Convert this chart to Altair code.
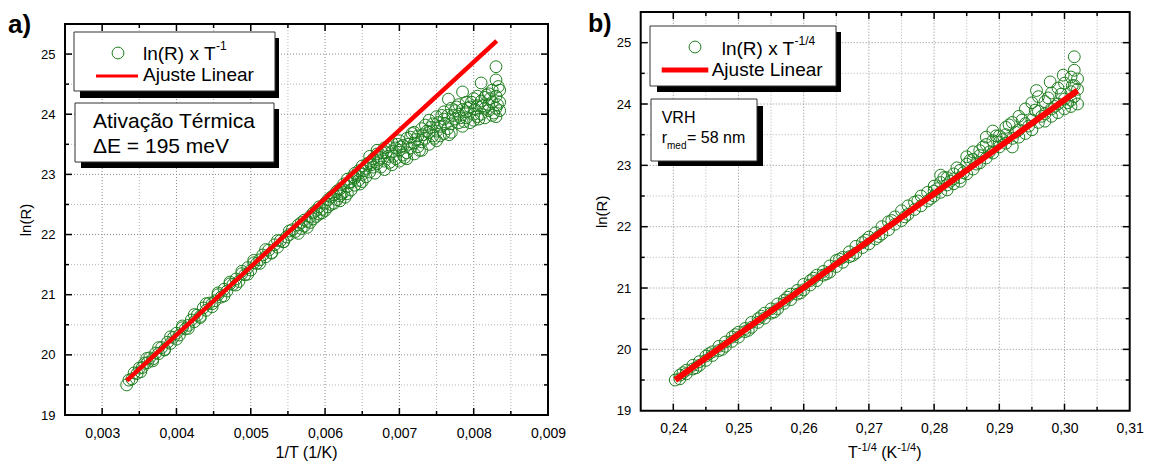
import altair as alt
import pandas as pd

FONT = "Liberation Sans"
GREEN = "#1f7f1f"
RED = "#ff0000"

# ---------------- panel a) ln(R) x 1/T ----------------
a_x = [
    0.00333, 0.00336, 0.00340, 0.00343, 0.00347, 0.00350, 0.00354, 0.00357, 0.00361, 0.00364,
    0.00368, 0.00372, 0.00376, 0.00380, 0.00384, 0.00388, 0.00392, 0.00396, 0.00400, 0.00404,
    0.00408, 0.00412, 0.00416, 0.00420, 0.00424, 0.00428, 0.00432, 0.00436, 0.00440, 0.00444,
    0.00448, 0.00452, 0.00456, 0.00460, 0.00464, 0.00468, 0.00472, 0.00476, 0.00480, 0.00484,
    0.00488, 0.00492, 0.00496, 0.00500, 0.00504, 0.00508, 0.00512, 0.00516, 0.00520, 0.00524,
    0.00528, 0.00532, 0.00536, 0.00540, 0.00544, 0.00548, 0.00552, 0.00556, 0.00560,
    0.00564, 0.00564, 0.00568, 0.00568, 0.00572, 0.00572, 0.00576, 0.00576, 0.00580, 0.00580,
    0.00584, 0.00584, 0.00588, 0.00588, 0.00592, 0.00592, 0.00596, 0.00596, 0.00600, 0.00600,
    0.00604, 0.00604, 0.00608, 0.00608, 0.00612, 0.00612, 0.00616, 0.00616,
    0.00620, 0.00620, 0.00620, 0.00625, 0.00625, 0.00630, 0.00630, 0.00630, 0.00635, 0.00635,
    0.00640, 0.00640, 0.00640, 0.00645, 0.00645, 0.00650, 0.00650, 0.00650, 0.00655, 0.00655,
    0.00660, 0.00660, 0.00660, 0.00665, 0.00665, 0.00670, 0.00670, 0.00670, 0.00675, 0.00675,
    0.00680, 0.00680, 0.00680, 0.00685, 0.00685, 0.00690, 0.00690, 0.00690, 0.00695, 0.00695,
    0.00700, 0.00700, 0.00700, 0.00705, 0.00705, 0.00710, 0.00710, 0.00710, 0.00715, 0.00715,
    0.00720, 0.00720, 0.00720, 0.00725, 0.00725, 0.00730, 0.00730, 0.00730, 0.00735, 0.00735,
    0.00740, 0.00740, 0.00740, 0.00745, 0.00745, 0.00750, 0.00750, 0.00750, 0.00755, 0.00755,
    0.00760, 0.00760, 0.00760, 0.00765, 0.00765, 0.00766, 0.00770, 0.00770, 0.00770, 0.00775, 0.00775,
    0.00780, 0.00780, 0.00780, 0.00785, 0.00785, 0.00785, 0.00790, 0.00790, 0.00790, 0.00795, 0.00795,
    0.00800, 0.00800, 0.00800, 0.00805, 0.00805, 0.00805, 0.00810, 0.00810, 0.00810,
    0.00815, 0.00815, 0.00815, 0.00820, 0.00820, 0.00820, 0.00825, 0.00825, 0.00825,
    0.00830, 0.00830, 0.00830, 0.00830, 0.00830, 0.00835, 0.00835, 0.00835,
    0.00352, 0.00360, 0.00368, 0.00376, 0.00384, 0.00392, 0.00400, 0.00408, 0.00416, 0.00424,
    0.00432, 0.00440, 0.00448, 0.00456, 0.00464, 0.00472, 0.00480, 0.00488, 0.00496, 0.00504,
    0.00512, 0.00520, 0.00528, 0.00536, 0.00544, 0.00552,
    0.00622, 0.00632, 0.00642, 0.00652, 0.00662, 0.00672, 0.00682, 0.00692, 0.00702, 0.00712, 0.00722,
    0.00732, 0.00742, 0.00752, 0.00762, 0.00772, 0.00782, 0.00792, 0.00802, 0.00812, 0.00822, 0.00832,
    0.00627, 0.00637, 0.00647, 0.00657, 0.00667, 0.00677, 0.00687, 0.00697, 0.00707, 0.00717, 0.00727,
    0.00737, 0.00747, 0.00757, 0.00767, 0.00777, 0.00787, 0.00797, 0.00807, 0.00817, 0.00827, 0.00833,
]
a_y = [
    19.50, 19.58, 19.60, 19.70, 19.69, 19.78, 19.79, 19.86, 19.87, 19.95,
    19.93, 20.03, 20.02, 20.12, 20.09, 20.21, 20.19, 20.29, 20.36, 20.33,
    20.45, 20.43, 20.49, 20.58, 20.55, 20.66, 20.64, 20.78, 20.74, 20.86,
    20.85, 20.90, 21.00, 20.96, 21.09, 21.06, 21.18, 21.17, 21.26, 21.22,
    21.35, 21.33, 21.45, 21.41, 21.53, 21.52, 21.58, 21.66, 21.63, 21.74,
    21.70, 21.83, 21.79, 21.90, 21.88, 21.96, 22.00, 22.08, 22.05,
    22.16, 22.02, 22.10, 22.20, 22.14, 22.24, 22.22, 22.12, 22.30, 22.20,
    22.26, 22.36, 22.40, 22.30, 22.34, 22.46, 22.42, 22.36, 22.52, 22.40,
    22.46, 22.58, 22.50, 22.62, 22.66, 22.52, 22.58, 22.72,
    22.64, 22.76, 22.56, 22.70, 22.84, 22.80, 22.68, 22.92, 22.74, 22.88,
    22.94, 22.82, 23.02, 22.90, 23.06, 23.00, 23.14, 22.88, 23.10, 22.96,
    23.20, 23.04, 23.30, 23.12, 23.26, 23.34, 23.18, 23.40, 23.28, 23.12,
    23.44, 23.22, 23.08, 23.30, 23.46, 23.16, 23.38, 23.52, 23.26, 23.44,
    23.40, 23.22, 23.56, 23.32, 23.48, 23.60, 23.36, 23.26, 23.44, 23.62,
    23.34, 23.52, 23.70, 23.46, 23.64, 23.76, 23.54, 23.40, 23.60, 23.82,
    23.50, 23.70, 23.90, 23.64, 23.84, 23.96, 23.72, 23.56, 23.80, 23.64,
    23.92, 24.04, 23.68, 23.76, 23.98, 24.25, 24.10, 23.84, 23.70, 23.92, 24.06,
    24.16, 23.86, 24.00, 23.80, 24.08, 24.37, 23.94, 24.20, 24.04, 23.86, 24.12,
    24.26, 24.00, 23.90, 24.14, 24.30, 23.96, 24.00, 24.22, 24.52,
    24.10, 24.28, 23.94, 24.34, 24.06, 24.16, 24.20, 23.98, 24.40,
    24.79, 24.57, 24.10, 23.96, 24.30, 24.40, 24.20, 24.06,
    19.72, 19.94, 19.90, 20.12, 20.08, 20.30, 20.26, 20.48, 20.44, 20.67,
    20.62, 20.85, 20.80, 21.03, 20.98, 21.21, 21.16, 21.39, 21.34, 21.57,
    21.52, 21.75, 21.69, 21.90, 21.88, 22.06,
    22.68, 22.86, 22.98, 23.06, 23.16, 23.24, 23.36, 23.30, 23.46, 23.50, 23.58,
    23.66, 23.78, 23.86, 23.84, 23.98, 23.94, 24.10, 24.08, 24.14, 24.26, 24.16,
    22.62, 22.96, 22.84, 23.18, 23.02, 23.36, 23.20, 23.50, 23.28, 23.68, 23.40,
    23.72, 23.60, 23.98, 23.66, 24.12, 23.88, 24.20, 23.92, 24.32, 24.02, 24.46,
]
a_fit_x = [0.00333, 0.00831]
a_fit_y = [19.57, 25.22]

# ---------------- panel b) ln(R) x T^-1/4 ----------------
b_x = [
    0.2403,
    0.2410, 0.2410, 0.2420, 0.2420, 0.2430, 0.2430, 0.2440, 0.2440, 0.2450, 0.2450,
    0.2460, 0.2460, 0.2470, 0.2470, 0.2480, 0.2480, 0.2490, 0.2490, 0.2500, 0.2500,
    0.2510, 0.2510, 0.2520, 0.2520, 0.2530, 0.2530, 0.2540, 0.2540, 0.2550, 0.2550,
    0.2560, 0.2560, 0.2570, 0.2570, 0.2580, 0.2580, 0.2590, 0.2590, 0.2600, 0.2600,
    0.2610, 0.2610, 0.2620, 0.2620, 0.2630, 0.2630, 0.2640, 0.2640, 0.2650, 0.2650,
    0.2660, 0.2660, 0.2670, 0.2670, 0.2680, 0.2680, 0.2690, 0.2690, 0.2700, 0.2700,
    0.2710, 0.2710, 0.2720, 0.2720, 0.2730, 0.2730, 0.2740, 0.2740, 0.2750, 0.2750,
    0.2760, 0.2760, 0.2770, 0.2770, 0.2780, 0.2780, 0.2790, 0.2790,
    0.2800, 0.2800, 0.2800, 0.2810, 0.2810, 0.2810, 0.2820, 0.2820, 0.2820,
    0.2830, 0.2830, 0.2830, 0.2840, 0.2840, 0.2840, 0.2850, 0.2850, 0.2850,
    0.2860, 0.2860, 0.2860, 0.2870, 0.2870, 0.2870, 0.2880, 0.2880, 0.2880,
    0.2890, 0.2890, 0.2890, 0.2900, 0.2900, 0.2900, 0.2910, 0.2910, 0.2910,
    0.2920, 0.2920, 0.2920, 0.2930, 0.2930, 0.2930, 0.2940, 0.2940, 0.2940,
    0.2950, 0.2950, 0.2950, 0.2957, 0.2960, 0.2960, 0.2960, 0.2970, 0.2970, 0.2970,
    0.2978, 0.2980, 0.2980, 0.2980, 0.2990, 0.2990, 0.2990, 0.2998, 0.3000, 0.3000, 0.3000,
    0.3010, 0.3010, 0.3010, 0.3010, 0.3015, 0.3015, 0.3015, 0.3015, 0.3020, 0.3020, 0.3020,
    0.2415, 0.2435, 0.2455, 0.2475, 0.2495, 0.2515, 0.2535, 0.2555, 0.2575, 0.2595,
    0.2615, 0.2635, 0.2655, 0.2675, 0.2695, 0.2715, 0.2735, 0.2755, 0.2775, 0.2795,
    0.2805, 0.2815, 0.2825, 0.2835, 0.2845, 0.2855, 0.2865, 0.2875, 0.2885, 0.2895, 0.2905,
    0.2915, 0.2925, 0.2935, 0.2945, 0.2955, 0.2965, 0.2975, 0.2985, 0.2995, 0.3005, 0.3012,
]
b_y = [
    19.50,
    19.58, 19.52, 19.66, 19.60, 19.74, 19.68, 19.80, 19.74, 19.89, 19.82,
    19.96, 19.90, 20.05, 19.98, 20.12, 20.05, 20.20, 20.13, 20.28, 20.20,
    20.34, 20.29, 20.44, 20.36, 20.50, 20.44, 20.59, 20.51, 20.66, 20.59,
    20.74, 20.66, 20.80, 20.75, 20.90, 20.81, 20.96, 20.90, 21.06, 20.97,
    21.12, 21.05, 21.21, 21.12, 21.27, 21.21, 21.36, 21.26, 21.45, 21.35,
    21.50, 21.42, 21.59, 21.51, 21.68, 21.57, 21.74, 21.66, 21.83, 21.72,
    21.90, 21.80, 22.00, 21.88, 22.08, 21.95, 22.16, 22.04, 22.26, 22.10,
    22.34, 22.20, 22.40, 22.28, 22.50, 22.34, 22.56, 22.42,
    22.66, 22.50, 22.58, 22.72, 22.56, 22.84, 22.68, 22.80, 22.60,
    22.86, 22.70, 22.78, 22.92, 22.80, 22.74, 23.02, 22.86, 23.14,
    22.94, 23.10, 23.22, 23.04, 23.24, 23.16, 23.34, 23.12, 23.46,
    23.20, 23.40, 23.56, 23.30, 23.48, 23.38, 23.62, 23.36, 23.50,
    23.44, 23.70, 23.30, 23.58, 23.80, 23.46, 23.52, 23.68, 23.92,
    24.02, 23.74, 23.58, 24.22, 23.70, 23.88, 24.12, 23.84, 24.04, 23.72,
    24.36, 24.18, 23.92, 23.80, 24.00, 24.26, 23.86, 24.47, 24.34, 24.08, 23.92,
    24.20, 24.44, 23.96, 24.06, 24.77, 24.55, 24.30, 24.12, 24.41, 24.00, 24.24,
    19.62, 19.70, 19.93, 20.00, 20.24, 20.31, 20.54, 20.61, 20.85, 20.92,
    21.16, 21.23, 21.47, 21.53, 21.78, 21.84, 22.10, 22.16, 22.42, 22.46,
    22.62, 22.80, 22.74, 22.96, 22.88, 23.08, 23.02, 23.30, 23.22, 23.48, 23.42,
    23.66, 23.54, 23.74, 23.64, 23.90, 23.80, 24.10, 23.96, 24.16, 24.02, 24.30,
]
b_fit_x = [0.2403, 0.3020]
b_fit_y = [19.50, 24.22]

# ---------------- ticks / grid / labels ----------------
a_xlabels = [0.003, 0.004, 0.005, 0.006, 0.007, 0.008, 0.009]
a_xmajor = [0.003, 0.004, 0.005, 0.006, 0.007, 0.008]
a_xminor = [0.0035, 0.0045, 0.0055, 0.0065, 0.0075, 0.0085]
b_xlabels = [0.24, 0.25, 0.26, 0.27, 0.28, 0.29, 0.30, 0.31]
b_xmajor = [0.24, 0.25, 0.26, 0.27, 0.28, 0.29, 0.30]
b_xminor = [0.245, 0.255, 0.265, 0.275, 0.285, 0.295, 0.305]
y_labels = [19, 20, 21, 22, 23, 24, 25]
y_major = [20, 21, 22, 23, 24, 25]
y_minor = [19.5, 20.5, 21.5, 22.5, 23.5, 24.5]

# texts
a_tag, b_tag = "a)", "b)"
leg_series = "ln(R) x T"
a_sup = "-1"
b_sup = "-1/4"
leg_fit = "Ajuste Linear"
a_box_lines = ["Ativação Térmica", "ΔE = 195 meV"]
b_box_title = "VRH"
b_r, b_r_sub, b_r_rest = "r", "med", "= 58 nm"
a_xtitle = "1/T (1/K)"
y_title = "ln(R)"

# ---------------- scales ----------------
A_X = [0.0025, 0.009]
B_X = [0.235, 0.31]
Y_D = [19, 25.5]
sa_x = alt.Scale(domain=A_X, range=[0, 483], nice=False, zero=False)
sa_y = alt.Scale(domain=Y_D, range=[403, 12], nice=False, zero=False)
sb_x = alt.Scale(domain=B_X, range=[575.7, 1064.7], nice=False, zero=False)
sb_y = alt.Scale(domain=Y_D, range=[398.7, 0], nice=False, zero=False)

PT_SIZE = 140
one = pd.DataFrame({"k": [0]})


def vdf(vals):
    return pd.DataFrame({"v": vals})


def vgrid(vals, sx, sy, color):
    return alt.Chart(vdf(vals)).mark_rule(color=color, strokeDash=[1, 2], strokeWidth=1).encode(
        x=alt.X("v:Q", scale=sx, axis=None),
        y=alt.YDatum(Y_D[0], scale=sy, axis=None, type="quantitative"),
        y2=alt.Y2Datum(Y_D[1]),
    )


def hgrid(vals, sx, sy, xd, color):
    return alt.Chart(vdf(vals)).mark_rule(color=color, strokeDash=[1, 2], strokeWidth=1).encode(
        y=alt.Y("v:Q", scale=sy, axis=None),
        x=alt.XDatum(xd[0], scale=sx, axis=None, type="quantitative"),
        x2=alt.X2Datum(xd[1]),
    )


def xtick(vals, sx, sy, edge, off):
    return alt.Chart(vdf(vals)).mark_rule(color="black", strokeWidth=1.5, y2Offset=off).encode(
        x=alt.X("v:Q", scale=sx, axis=None),
        y=alt.YDatum(edge, scale=sy, axis=None, type="quantitative"),
        y2=alt.Y2Datum(edge),
    )


def ytick(vals, sx, sy, edge, off):
    return alt.Chart(vdf(vals)).mark_rule(color="black", strokeWidth=1.5, x2Offset=off).encode(
        y=alt.Y("v:Q", scale=sy, axis=None),
        x=alt.XDatum(edge, scale=sx, axis=None, type="quantitative"),
        x2=alt.X2Datum(edge),
    )


def frame(sx, sy, xd):
    return alt.Chart(one).mark_rect(fillOpacity=0, stroke="black", strokeWidth=2).encode(
        x=alt.XDatum(xd[0], scale=sx, axis=None, type="quantitative"),
        x2=alt.X2Datum(xd[1]),
        y=alt.YDatum(Y_D[0], scale=sy, axis=None, type="quantitative"),
        y2=alt.Y2Datum(Y_D[1]),
    )


def box(x0, x1, y0, y1, fill, stroke=False):
    kw = dict(fill=fill)
    if stroke:
        kw.update(stroke="#333333", strokeWidth=1)
    return alt.Chart(one).mark_rect(**kw).encode(
        x=alt.value(x0), x2=alt.value(x1), y=alt.value(y0), y2=alt.value(y1)
    )


def txt(s, x, y, size, weight="normal", align="left"):
    return alt.Chart(one).mark_text(
        text=s, font=FONT, fontSize=size, fontWeight=weight, align=align,
        baseline="alphabetic", color="black"
    ).encode(x=alt.value(x), y=alt.value(y))


def legend_circle(x, y):
    return alt.Chart(one).mark_point(
        shape="circle", filled=False, size=PT_SIZE, strokeWidth=1, color=GREEN, opacity=1
    ).encode(x=alt.value(x), y=alt.value(y))


def panel(df, fit, sx, sy, xd, xlabels, xmajor, xminor, lab_expr, xoff, yoff, lw):
    grid = [
        vgrid(xmajor, sx, sy, "#8a8a8a"),
        vgrid(xminor, sx, sy, "#b4b4b4"),
        hgrid(y_major, sx, sy, xd, "#8a8a8a"),
        hgrid(y_minor, sx, sy, xd, "#b4b4b4"),
    ]
    pts = alt.Chart(df).mark_point(
        shape="circle", filled=False, size=PT_SIZE, strokeWidth=1, color=GREEN, opacity=1
    ).encode(
        x=alt.X("x:Q", scale=sx, axis=alt.Axis(
            orient="bottom", offset=xoff, values=xlabels, labelExpr=lab_expr,
            grid=False, ticks=False, tickSize=0, domain=False, labelFont=FONT,
            labelFontSize=14, labelColor="black", labelPadding=11, labelFlush=False,
            labelOverlap=False, labelBound=False, title=None)),
        y=alt.Y("y:Q", scale=sy, axis=alt.Axis(
            orient="left", offset=yoff, values=y_labels, format="d",
            grid=False, ticks=False, tickSize=0, domain=False, labelFont=FONT,
            labelFontSize=13, labelColor="black", labelPadding=10, labelFlush=False,
            labelOverlap=False, title=y_title, titleFont=FONT, titleFontSize=15,
            titleFontWeight="normal", titleColor="black", titlePadding=7)),
    )
    line = alt.Chart(fit).mark_line(color=RED, strokeWidth=lw).encode(
        x=alt.X("x:Q", scale=sx, axis=None), y=alt.Y("y:Q", scale=sy, axis=None)
    )
    ticks = [
        xtick(xmajor, sx, sy, Y_D[0], -7), xtick(xminor, sx, sy, Y_D[0], -4),
        xtick(xmajor, sx, sy, Y_D[1], 7), xtick(xminor, sx, sy, Y_D[1], 4),
        ytick(y_major, sx, sy, xd[0], 7), ytick(y_minor, sx, sy, xd[0], 4),
        ytick(y_major, sx, sy, xd[1], -7), ytick(y_minor, sx, sy, xd[1], -4),
    ]
    return grid + [pts, line] + ticks + [frame(sx, sy, xd)]


df_a = pd.DataFrame({"x": a_x, "y": a_y})
df_b = pd.DataFrame({"x": b_x, "y": b_y})
fit_a = pd.DataFrame({"x": a_fit_x, "y": a_fit_y})
fit_b = pd.DataFrame({"x": b_fit_x, "y": b_fit_y})

layers = []
layers += panel(df_a, fit_a, sa_x, sa_y, A_X, a_xlabels, a_xmajor, a_xminor,
                "replace(format(datum.value, '.3f'), '.', ',')", 0, 0, 4.5)
layers += panel(df_b, fit_b, sb_x, sb_y, B_X, b_xlabels, b_xmajor, b_xminor,
                "replace(format(datum.value, '.2f'), '.', ',')", -4.3, -575.7, 6)

# ---- annotations panel a ----
layers += [
    box(15, 214, 26, 86, "black"),
    box(9, 210, 20, 79, "white", True),
    legend_circle(53, 41),
    txt(leg_series, 78, 48, 19),
    txt(a_sup, 151, 38, 12),
    alt.Chart(one).mark_rule(color=RED, strokeWidth=3).encode(
        x=alt.value(31), x2=alt.value(73), y=alt.value(64)),
    txt(leg_fit, 78, 69, 19),
    box(16, 214, 97, 156, "black"),
    box(10, 209, 91, 150, "white", True),
    txt(a_box_lines[0], 28, 116, 21),
    txt(a_box_lines[1], 28, 141, 21),
    txt(a_tag, -57, 21, 26, "bold"),
    txt(a_xtitle, 241.5, 446, 16, align="center"),
]
# ---- annotations panel b ----
layers += [
    box(592, 776, 20, 80, "black"),
    box(585, 771, 14, 74, "white", True),
    legend_circle(630, 35),
    txt(leg_series, 656.7, 43, 19),
    txt(b_sup, 729.5, 33, 12),
    alt.Chart(one).mark_rule(color=RED, strokeWidth=5).encode(
        x=alt.value(596.7), x2=alt.value(643.3), y=alt.value(58)),
    txt(leg_fit, 646.7, 64, 19),
    box(593, 698, 94, 154, "black"),
    box(586, 692, 87, 149, "white", True),
    txt(b_box_title, 596.7, 110.7, 16),
    txt(b_r, 596.7, 131.3, 16),
    txt(b_r_sub, 602, 137, 10),
    txt(b_r_rest, 622, 131.3, 16),
    txt(b_tag, 523, 20, 25, "bold"),
    txt("T", 783, 446, 16),
    txt(b_sup, 792.8, 439, 11),
    txt("(K", 816.2, 446, 16),
    txt(b_sup, 832.2, 439, 11),
    txt(")", 851.2, 446, 16),
]

chart = alt.layer(*layers).resolve_scale(x="independent", y="independent").properties(
    width=1065, height=403,
    padding={"left": 57, "top": 4, "right": 15, "bottom": 49},
    autosize=alt.AutoSizeParams(type="none"),
).configure_view(strokeWidth=0)

chart.save("out.html", embed_options={"renderer": "svg", "actions": False})
